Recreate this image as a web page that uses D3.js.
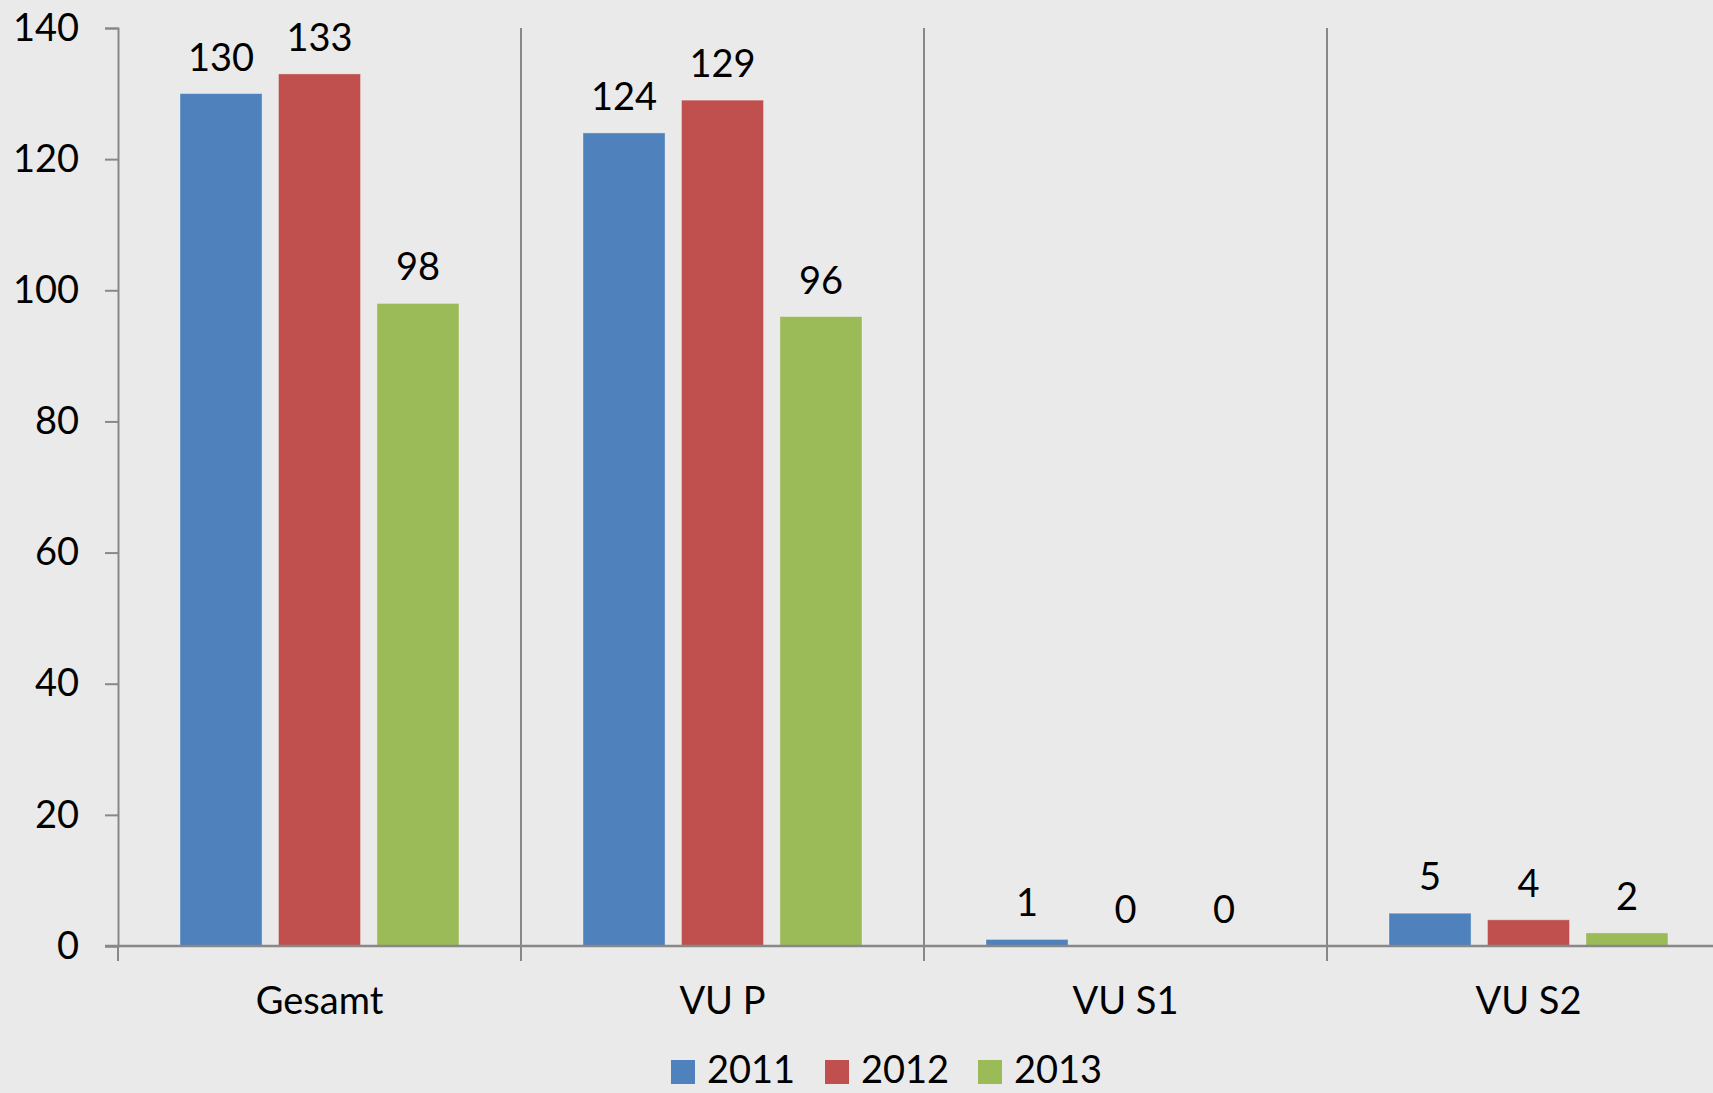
<!DOCTYPE html>
<html>
<head>
<meta charset="utf-8">
<script src="https://cdn.jsdelivr.net/npm/d3@7"></script>
<style>
  html, body { margin:0; padding:0; background:#eaeaea; overflow:hidden; }
  svg { display:block; font-family: Lato, "Open Sans", sans-serif; }
</style>
</head>
<body>
<svg id="chart" width="1713" height="1093"></svg>
<script>
// ---- data ----
const categories = ["Gesamt", "VU P", "VU S1", "VU S2"];
const years      = ["2011", "2012", "2013"];
const v2011      = [130, 124, 1, 5];
const v2012      = [133, 129, 0, 4];
const v2013      = [98, 96, 0, 2];
const yTicks     = [0, 20, 40, 60, 80, 100, 120, 140];
const colors     = ["#4f81bd", "#c0504d", "#9bbb59"];

const series = [v2011, v2012, v2013];
const rows = categories.map((c, i) => ({ cat: c, vals: years.map((y, j) => ({ year: y, v: series[j][i], color: colors[j] })) }));

const svg = d3.select("#chart");
const X0 = 118, CAT_W = 403, Y0 = 946, Y1 = 28;
const FS = 38;
const AXIS = "#888888";

svg.append("rect").attr("width", 1713).attr("height", 1093).attr("fill", "#eaeaea");

const x0 = d3.scaleBand().domain(categories).range([X0, X0 + CAT_W * categories.length]).padding(0);
const x1 = d3.scaleBand().domain(years).range([62, CAT_W - 62]).paddingInner(1/6).paddingOuter(0);
const y  = d3.scaleLinear().domain([0, 140]).range([Y0, Y1]);

// category separators (vertical gridlines at boundaries)
svg.append("g").selectAll("line")
  .data(categories.slice(1))
  .join("line")
    .attr("x1", d => x0(d)).attr("x2", d => x0(d))
    .attr("y1", Y1).attr("y2", Y0 + 15)
    .attr("stroke", AXIS).attr("stroke-width", 2);

// bars
const gCat = svg.append("g").selectAll("g")
  .data(rows)
  .join("g")
    .attr("transform", d => `translate(${x0(d.cat)},0)`);

gCat.selectAll("rect")
  .data(d => d.vals)
  .join("rect")
    .attr("x", d => x1(d.year))
    .attr("width", x1.bandwidth())
    .attr("y", d => y(d.v))
    .attr("height", d => Y0 - y(d.v))
    .attr("fill", d => d.color)
    .attr("stroke", "rgba(255,255,255,0.35)")
    .attr("stroke-width", 1);

gCat.selectAll("text")
  .data(d => d.vals)
  .join("text")
    .attr("x", d => x1(d.year) + x1.bandwidth() / 2)
    .attr("y", d => y(d.v) - 23)
    .attr("text-anchor", "middle")
    .attr("font-size", FS)
    .attr("fill", "#000")
    .text(d => d.v);

// y axis
const yAxis = d3.axisLeft(y).tickValues(yTicks).tickSize(13).tickPadding(26);
const gy = svg.append("g").attr("transform", `translate(${X0},0)`).call(yAxis);
gy.select(".domain").attr("stroke", AXIS).attr("stroke-width", 2);
gy.selectAll(".tick line").attr("stroke", AXIS).attr("stroke-width", 2);
gy.selectAll(".tick text").attr("font-size", FS).attr("font-family", "Lato, 'Open Sans', sans-serif").attr("fill", "#000");

// x axis
svg.append("line")
  .attr("x1", X0 - 13).attr("x2", 1713)
  .attr("y1", Y0).attr("y2", Y0)
  .attr("stroke", AXIS).attr("stroke-width", 2.5);
svg.append("line")
  .attr("x1", X0).attr("x2", X0)
  .attr("y1", Y0).attr("y2", Y0 + 15)
  .attr("stroke", AXIS).attr("stroke-width", 2);

svg.append("g").selectAll("text")
  .data(categories)
  .join("text")
    .attr("x", d => x0(d) + x0.bandwidth() / 2)
    .attr("y", 1014)
    .attr("text-anchor", "middle")
    .attr("font-size", FS)
    .attr("fill", "#000")
    .text(d => d);

// legend
const legendX = [671, 825, 978];
const gLeg = svg.append("g").selectAll("g")
  .data(years)
  .join("g")
    .attr("transform", (d, i) => `translate(${legendX[i]},1060)`);
gLeg.append("rect").attr("width", 24).attr("height", 24).attr("fill", (d, i) => colors[i]);
gLeg.append("text")
  .attr("x", 36).attr("y", 23)
  .attr("font-size", FS)
  .attr("fill", "#000")
  .text(d => d);
</script>
</body>
</html>
